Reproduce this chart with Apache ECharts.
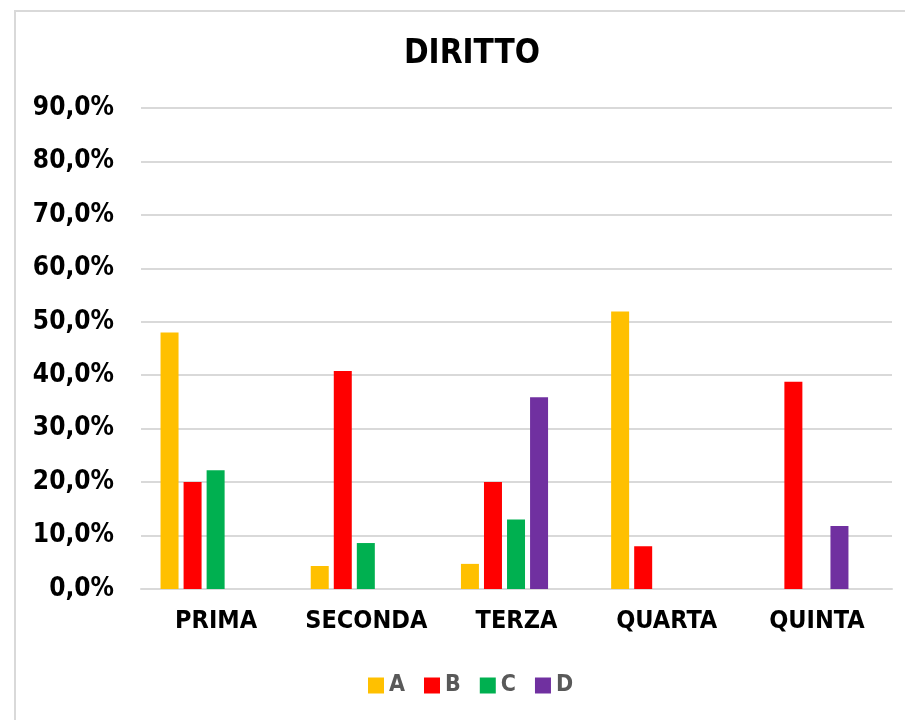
<!DOCTYPE html>
<html>
<head>
<meta charset="utf-8">
<title>DIRITTO</title>
<script src="https://cdn.jsdelivr.net/npm/echarts@6/dist/echarts.min.js"></script>
<style>
  html, body { margin: 0; padding: 0; background: #fff; }
  #chart { width: 905px; height: 720px; }
</style>
</head>
<body>
<div id="chart"></div>
<script>
// classi
const categories = ['PRIMA', 'SECONDA', 'TERZA', 'QUARTA', 'QUINTA']
// percentuali
const seriesA = [48.0, 4.3, 4.7, 51.9, 0]
const seriesB = [20.0, 40.8, 20.0, 8.0, 38.8]
const seriesC = [22.2, 8.6, 13.0, 0, 0]
const seriesD = [0, 0, 35.9, 0, 11.8]
const seriesNames = ['A', 'B', 'C', 'D']
const colors = ['#FFC000', '#FF0000', '#00B050', '#7030A0']
const yMax = 90
const yStep = 10

const font = "'DejaVu Sans Condensed', 'DejaVu Sans', sans-serif"
const gridColor = '#d9d9d9'

const chart = echarts.init(document.getElementById('chart'))

const fmt = (v) => v.toFixed(1).replace('.', ',') + '%'

const makeBar = (name, data, i) => ({
  name,
  type: 'bar',
  xAxisIndex: 1,
  yAxisIndex: 1,
  data,
  barWidth: 18,
  barGap: '28%',
  itemStyle: { color: colors[i] },
  emphasis: { disabled: true },
})

const option = {
  animation: false,
  color: colors,
  title: {
    text: 'DIRITTO',
    left: 467,
    top: 33,
    textAlign: 'center',
    textStyle: { fontFamily: font, fontWeight: 'bold', fontSize: 33, color: '#000' },
  },
  legend: {
    data: seriesNames,
    left: 363,
    top: 669,
    icon: 'rect',
    itemWidth: 16,
    itemHeight: 16,
    itemGap: 19,
    textStyle: { fontFamily: font, fontWeight: 'bold', fontSize: 23, color: '#595959' },
  },
  graphic: [
    {
      type: 'rect',
      shape: { x: 15, y: 11, width: 1000, height: 1000 },
      style: { fill: 'none', stroke: gridColor, lineWidth: 2 },
      z: -1,
    },
  ],
  grid: [
    // griglia con assi ed etichette
    { left: 141, right: 13, top: 108, bottom: 131 },
    // le barre in Excel sono spostate un po' a sinistra
    { left: 129, right: 25, top: 108, bottom: 131 },
  ],
  xAxis: [
    {
      type: 'category',
      gridIndex: 0,
      data: categories,
      axisLine: { lineStyle: { color: gridColor, width: 2 } },
      axisTick: { show: false },
      axisLabel: {
        color: '#000',
        fontFamily: font,
        fontWeight: 'bold',
        fontSize: 25,
        margin: 20,
        interval: 0,
      },
    },
    {
      type: 'category',
      gridIndex: 1,
      data: categories,
      show: false,
    },
  ],
  yAxis: [
    {
      type: 'value',
      gridIndex: 0,
      min: 0,
      max: yMax,
      interval: yStep,
      axisLine: { show: false },
      axisTick: { show: false },
      splitLine: { lineStyle: { color: gridColor, width: 2 } },
      axisLabel: {
        color: '#000',
        fontFamily: font,
        fontWeight: 'bold',
        fontSize: 26,
        margin: 27,
        formatter: fmt,
      },
    },
    {
      type: 'value',
      gridIndex: 1,
      min: 0,
      max: yMax,
      interval: yStep,
      show: false,
    },
  ],
  series: [
    makeBar('A', seriesA, 0),
    makeBar('B', seriesB, 1),
    makeBar('C', seriesC, 2),
    makeBar('D', seriesD, 3),
  ],
}

chart.setOption(option)
</script>
</body>
</html>
